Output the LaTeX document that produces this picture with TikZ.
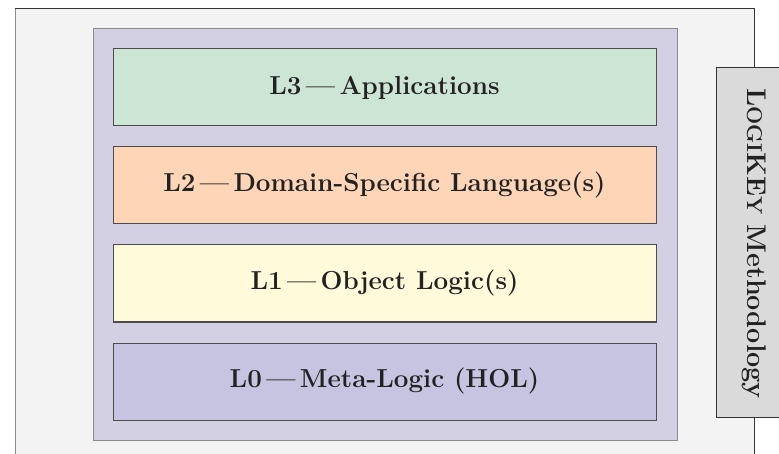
\documentclass[tikz,border=0pt]{standalone}
\usepackage{fontspec}
\definecolor{outerbg}{RGB}{243,243,243}
\definecolor{contbg}{RGB}{211,208,227}
\definecolor{lthree}{RGB}{204,229,212}
\definecolor{ltwo}{RGB}{255,213,184}
\definecolor{lone}{RGB}{255,250,217}
\definecolor{lzero}{RGB}{199,196,226}
\definecolor{sidebg}{RGB}{218,218,218}
\definecolor{txt}{RGB}{34,34,34}
\begin{document}
\begin{tikzpicture}[x=1pt,y=-1pt,
  layer/.style={draw=black!70, line width=1pt, minimum width=543pt, minimum height=77pt,
    inner sep=0pt, anchor=north west, text=txt,
    font=\fontsize{26}{30}\selectfont\bfseries},
  container/.style={draw=black!45, fill=contbg, line width=1pt, minimum width=584pt,
    minimum height=411pt, inner sep=0pt, anchor=north west},
  outerbox/.style={draw=black!80, fill=outerbg, line width=1pt},
  sidebox/.style={draw=black!80, fill=sidebg, line width=1pt}]
\useasboundingbox (0,0) rectangle (779,454);
\begin{scope}
\clip (0,0) rectangle (779,454);
\draw[outerbox] (15.5,8.5) rectangle (754.5,470);
\draw[black!45, line width=1.5pt] (15.5,9) -- (15.5,470);
\node[sidebox, minimum width=80pt, minimum height=349pt, inner sep=0pt, anchor=north west] (side) at (715.5,67.5) {};
\end{scope}
\node[container] (cont) at (92.5,28.5) {};
\node[layer, fill=lthree] (l3) at (112.5,48.5) {L3\,—\,Applications};
\node[layer, fill=ltwo] (l2) at (112.5,146.5) {L2\,—\,Domain-Specific Language(s)};
\node[layer, fill=lone] (l1) at (112.5,244.5) {L1\,—\,Object Logic(s)};
\node[layer, fill=lzero] (l0) at (112.5,342.5) {L0\,—\,Meta-Logic (HOL)};
\node[rotate=-90, anchor=base, text=txt, inner sep=0pt, font=\fontsize{27}{30}\selectfont\bfseries] (method) at (747,243.5)
  {L{\fontsize{21.5}{24}\selectfont OGI}KE{\fontsize{21.5}{24}\selectfont Y} Methodology};
\end{tikzpicture}
\end{document}
